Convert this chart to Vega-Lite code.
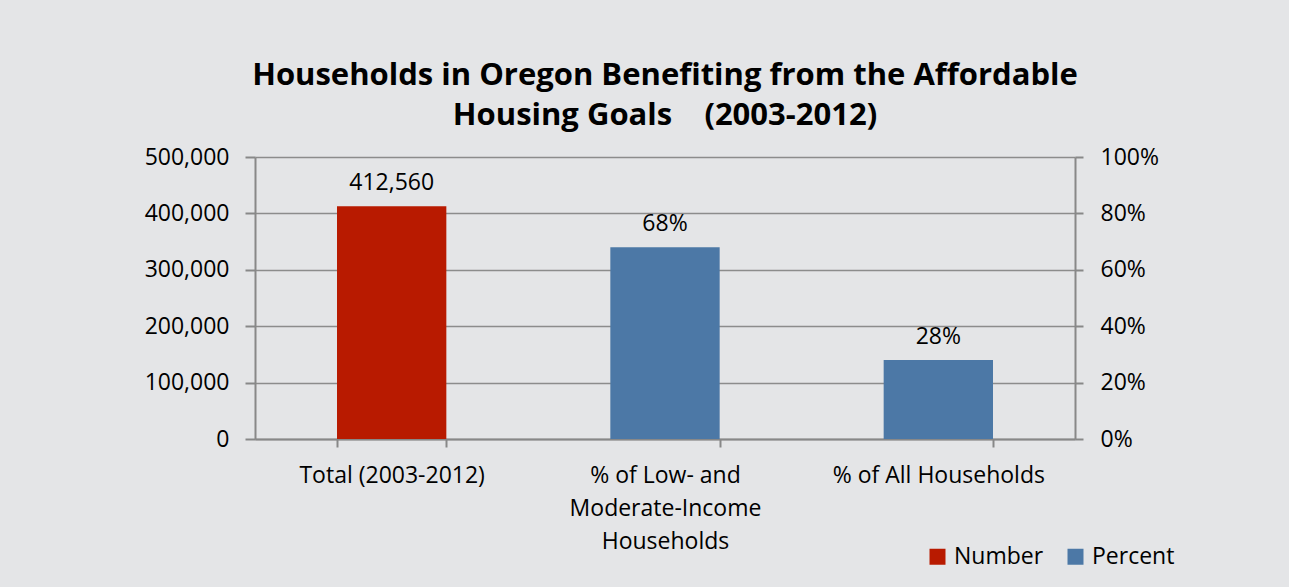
{
  "$schema": "https://vega.github.io/schema/vega-lite/v6.json",
  "width": 820,
  "height": 282,
  "autosize": {"type": "none"},
  "padding": {"left": 255, "top": 157, "right": 214, "bottom": 148},
  "background": "#e4e5e7",
  "title": {
    "text": ["Households in Oregon Benefiting from the Affordable", "Housing Goals \u00a0\u00a0\u00a0(2003-2012)"],
    "font": "Open Sans",
    "fontSize": 31,
    "fontWeight": "bold",
    "color": "#000000",
    "lineHeight": 40,
    "anchor": "middle",
    "offset": 14
  },
  "data": {
    "values": [
      {"category": "Total (2003-2012)", "series": "Number", "number": 412560, "pct": null, "label": "412,560"},
      {"category": "% of Low- and Moderate-Income Households", "series": "Percent", "number": null, "pct": 0.68, "label": "68%"},
      {"category": "% of All Households", "series": "Percent", "number": null, "pct": 0.28, "label": "28%"}
    ]
  },
  "encoding": {
    "x": {
      "field": "category",
      "type": "nominal",
      "scale": {
        "domain": ["Total (2003-2012)", "% of Low- and Moderate-Income Households", "% of All Households"],
        "paddingInner": 0.6,
        "paddingOuter": 0.3
      },
      "axis": {
        "title": null,
        "labelAngle": 0,
        "labelExpr": "datum.label == '% of Low- and Moderate-Income Households' ? ['% of Low- and', 'Moderate-Income', 'Households'] : datum.label",
        "labelFont": "Open Sans",
        "labelFontSize": 23,
        "labelColor": "#000000",
        "labelLineHeight": 33,
        "labelPadding": 17,
        "labelLimit": 400,
        "tickBand": "extent",
        "tickSize": 8,
        "tickColor": "#888888",
        "tickWidth": 2,
        "domainColor": "#888888",
        "domainWidth": 2,
        "grid": false
      }
    },
    "color": {
      "field": "series",
      "type": "nominal",
      "scale": {"domain": ["Number", "Percent"], "range": ["#b81a00", "#4c78a6"]},
      "legend": {
        "title": null,
        "orient": "none",
        "legendX": 671,
        "legendY": 388,
        "direction": "horizontal",
        "symbolType": "square",
        "symbolSize": 256,
        "symbolStrokeWidth": 0,
        "labelFont": "Open Sans",
        "labelFontSize": 23,
        "labelColor": "#000000",
        "labelOffset": 5,
        "columnPadding": 20,
        "padding": 0
      }
    }
  },
  "layer": [
    {
      "transform": [{"filter": "datum.series == 'Number'"}],
      "encoding": {
        "y": {
          "field": "number",
          "type": "quantitative",
          "scale": {"domain": [0, 500000], "nice": false},
          "axis": {
            "title": null,
            "orient": "left",
            "values": [0, 100000, 200000, 300000, 400000, 500000],
            "format": ",.0f",
            "labelFont": "Open Sans",
            "labelFontSize": 23,
            "labelColor": "#000000",
            "labelPadding": 16,
            "tickSize": 10,
            "tickColor": "#888888",
            "tickWidth": 2,
            "domainColor": "#888888",
            "domainWidth": 2,
            "grid": true,
            "gridColor": "#8c8c8c",
            "gridWidth": 1.5
          }
        }
      },
      "layer": [
        {"mark": {"type": "bar"}},
        {
          "mark": {"type": "text", "baseline": "alphabetic", "dy": -16, "font": "Open Sans", "fontSize": 23, "color": "#000000"},
          "encoding": {"text": {"field": "label"}, "color": {"value": "#000000"}}
        }
      ]
    },
    {
      "transform": [{"filter": "datum.series == 'Percent'"}],
      "encoding": {
        "y": {
          "field": "pct",
          "type": "quantitative",
          "scale": {"domain": [0, 1], "nice": false},
          "axis": {
            "title": null,
            "orient": "right",
            "values": [0, 0.2, 0.4, 0.6, 0.8, 1],
            "format": ".0%",
            "labelFont": "Open Sans",
            "labelFontSize": 23,
            "labelColor": "#000000",
            "labelPadding": 17,
            "tickSize": 8,
            "tickColor": "#888888",
            "tickWidth": 2,
            "domainColor": "#888888",
            "domainWidth": 2,
            "grid": false
          }
        }
      },
      "layer": [
        {"mark": {"type": "bar"}},
        {
          "mark": {"type": "text", "baseline": "alphabetic", "dy": -16, "font": "Open Sans", "fontSize": 23, "color": "#000000"},
          "encoding": {"text": {"field": "label"}, "color": {"value": "#000000"}}
        }
      ]
    }
  ],
  "resolve": {"scale": {"y": "independent"}},
  "config": {"view": {"stroke": null}}
}
